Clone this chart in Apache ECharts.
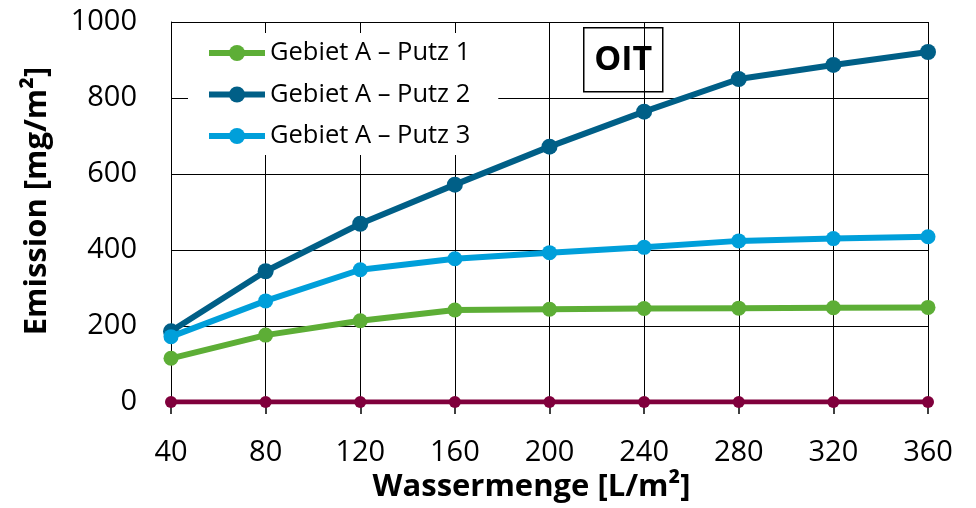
<!DOCTYPE html>
<html>
<head>
<meta charset="utf-8">
<script src="https://cdn.jsdelivr.net/npm/echarts@6/dist/echarts.min.js"></script>
<style>html,body{margin:0;padding:0;background:#fff}#c{width:976px;height:508px}</style>
</head>
<body>
<div id="c"></div>
<script>
const xValues = [40, 80, 120, 160, 200, 240, 280, 320, 360];
const putz1 = [115, 176, 214, 242, 244, 246, 247, 248, 249];
const putz2 = [186, 344, 469, 572, 672, 764, 850, 887, 921];
const putz3 = [172, 266, 348, 377, 393, 407, 424, 430, 435];
const zeroSeries = [0, 0, 0, 0, 0, 0, 0, 0, 0];
const seriesNames = ['Gebiet A \u2013 Putz 1', 'Gebiet A \u2013 Putz 2', 'Gebiet A \u2013 Putz 3', 'Referenz'];
const yTicks = [0, 200, 400, 600, 800, 1000];

const FONT = "'Open Sans', sans-serif";
const pair = arr => arr.map((v, i) => [xValues[i], v]);

const chart = echarts.init(document.getElementById('c'), null, {renderer: 'canvas'});
const mk = (name, data, color, lw, sym, z) => ({
  name, type: 'line', data: pair(data), z,
  symbol: 'circle', symbolSize: sym, showSymbol: true,
  lineStyle: {color, width: lw}, itemStyle: {color},
  emphasis: {disabled: true}, animation: false
});
chart.setOption({
  animation: false,
  textStyle: {fontFamily: FONT},
  grid: {left: 171, right: 48, top: 22, bottom: 105, containLabel: false},
  xAxis: {
    type: 'value', min: xValues[0], max: xValues[xValues.length - 1], interval: 40,
    name: 'Wassermenge [L/m\u00B2]', nameLocation: 'middle', nameGap: 70,
    nameTextStyle: {fontFamily: FONT, fontSize: 31, fontWeight: 'bold', color: '#000', padding: [0, 36, 0, 0]},
    axisLine: {show: true, lineStyle: {color: '#000', width: 1}},
    axisTick: {show: true, inside: false, length: 12, lineStyle: {color: '#000', width: 1.5}},
    axisLabel: {fontFamily: FONT, fontSize: 29, color: '#000', margin: 36},
    splitLine: {show: true, lineStyle: {color: '#000', width: 1}}
  },
  yAxis: {
    type: 'value', min: yTicks[0], max: yTicks[yTicks.length - 1], interval: 200,
    name: 'Emission [mg/m\u00B2]', nameLocation: 'middle', nameGap: 118, nameRotate: 90,
    nameTextStyle: {fontFamily: FONT, fontSize: 31, fontWeight: 'bold', color: '#000', padding: [0, 0, 0, 22]},
    axisLine: {show: true, lineStyle: {color: '#000', width: 1}},
    axisTick: {show: false},
    axisLabel: {fontFamily: FONT, fontSize: 29, color: '#000', margin: 34, formatter: v => String(v)},
    splitLine: {show: true, lineStyle: {color: '#000', width: 1}}
  },
  legend: {
    data: seriesNames.slice(0, 3),
    orient: 'vertical', left: 188, top: 33,
    backgroundColor: '#fff', padding: [7, 28, 6, 18],
    itemWidth: 56, itemHeight: 20, itemGap: 15.5,
    lineStyle: {width: 6},
    textStyle: {fontFamily: FONT, fontSize: 25.5, color: '#000'},
    selectedMode: false
  },
  graphic: [{
    type: 'group', left: 583, top: 27, z: 100,
    children: [
      {type: 'rect', shape: {x: 0, y: 0, width: 79, height: 64}, style: {fill: '#fff', stroke: '#000', lineWidth: 1.5}},
      {type: 'text', x: 39.5, y: 33, style: {text: 'OIT', fontFamily: FONT, fontSize: 34, fontWeight: 'bold', fill: '#000', align: 'center', verticalAlign: 'middle'}}
    ]
  }],
  series: [
    mk(seriesNames[3], zeroSeries, '#80003C', 5, 12, 2),
    mk(seriesNames[0], putz1, '#5DAE36', 6, 15, 3),
    mk(seriesNames[1], putz2, '#005F87', 6, 16, 4),
    mk(seriesNames[2], putz3, '#009FDA', 6, 15, 5)
  ]
});
</script>
</body>
</html>
